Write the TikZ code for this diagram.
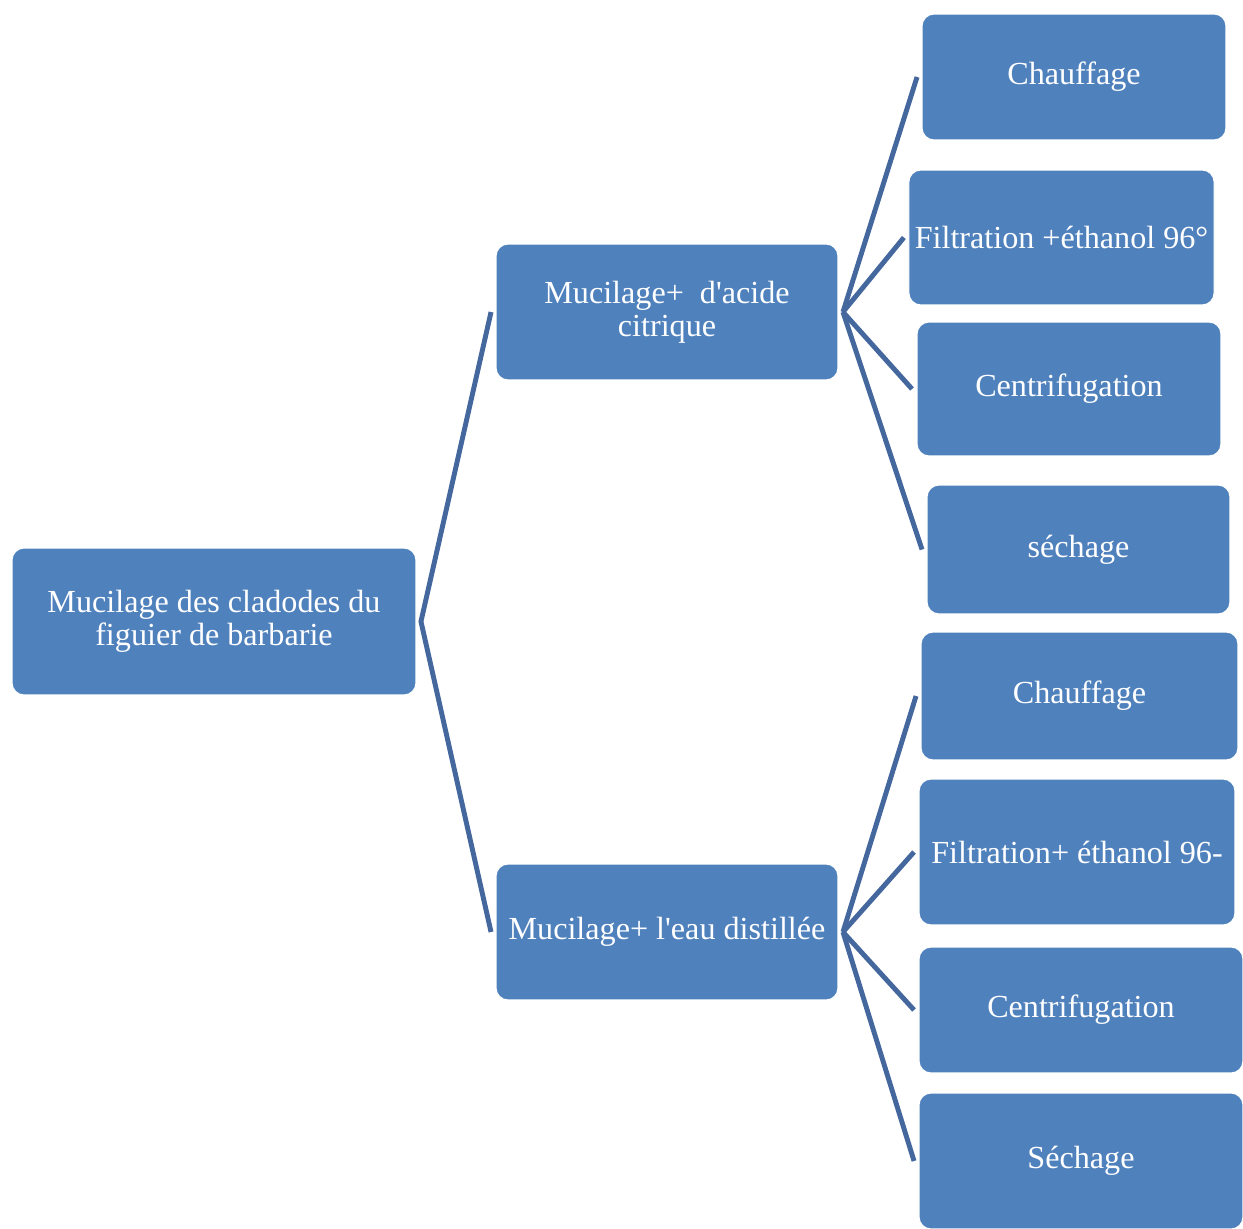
\documentclass[tikz,border=0pt]{standalone}
\usepackage{fontspec}
\setmainfont{Liberation Serif}
\definecolor{boxblue}{HTML}{4F81BD}
\definecolor{lineblue}{HTML}{44679E}
\newcommand\apos{\textquotesingle}

\begin{document}
\begin{tikzpicture}[x=0.02cm, y=-0.02cm]
    \tikzstyle{box} = [rectangle, draw=white, line width=0.6pt, fill=boxblue, text=white,
                                      rounded corners=0.24cm, align=center, outer sep=0.1cm,
                                      font=\fontsize{18.3}{18.8}\selectfont]
    \tikzstyle{link} = [draw=lineblue, line width=2.8pt]
  \useasboundingbox (0,0) rectangle (1243,1229);
  \node[box, minimum width=8.08cm, minimum height=2.94cm] (root) at (214,621.5)
       {Mucilage des cladodes du\\figuier de barbarie};
  \node[box, minimum width=6.84cm, minimum height=2.72cm] (acide) at (667,312)
       {Mucilage+ \ d\apos acide\\citrique};
  \node[box, minimum width=6.84cm, minimum height=2.72cm] (eau) at (667,932)
       {Mucilage+ l\apos eau distillée};
  % branche acide citrique
  \node[box, minimum width=6.08cm, minimum height=2.52cm] (chauffA) at (1074,77) {Chauffage};
  \node[box, minimum width=6.02cm, minimum height=2.70cm] (filtA) at (1061.5,237.5) {Filtration +éthanol 96°};
  \node[box, minimum width=6.08cm, minimum height=2.68cm] (centA) at (1069,389) {Centrifugation};
  \node[box, minimum width=6.06cm, minimum height=2.58cm] (sechA) at (1078.5,549.5) {séchage};
  % branche eau distillee
  \node[box, minimum width=6.34cm, minimum height=2.56cm] (chauffB) at (1079.5,696) {Chauffage};
  \node[box, minimum width=6.32cm, minimum height=2.92cm] (filtB) at (1077,852) {Filtration+ éthanol 96-};
  \node[box, minimum width=6.48cm, minimum height=2.52cm] (centB) at (1081,1010) {Centrifugation};
  \node[box, minimum width=6.48cm, minimum height=2.72cm] (sechB) at (1081,1161) {Séchage};
  \draw[link] (acide.west) -- (root.east) -- (eau.west);
  \draw[link] (acide.east) -- (chauffA.west);
  \draw[link] (acide.east) -- (filtA.west);
  \draw[link] (acide.east) -- (centA.west);
  \draw[link] (acide.east) -- (sechA.west);
  \draw[link] (eau.east) -- (chauffB.west);
  \draw[link] (eau.east) -- (filtB.west);
  \draw[link] (eau.east) -- (centB.west);
  \draw[link] (eau.east) -- (sechB.west);
  \end{tikzpicture}
\end{document}
